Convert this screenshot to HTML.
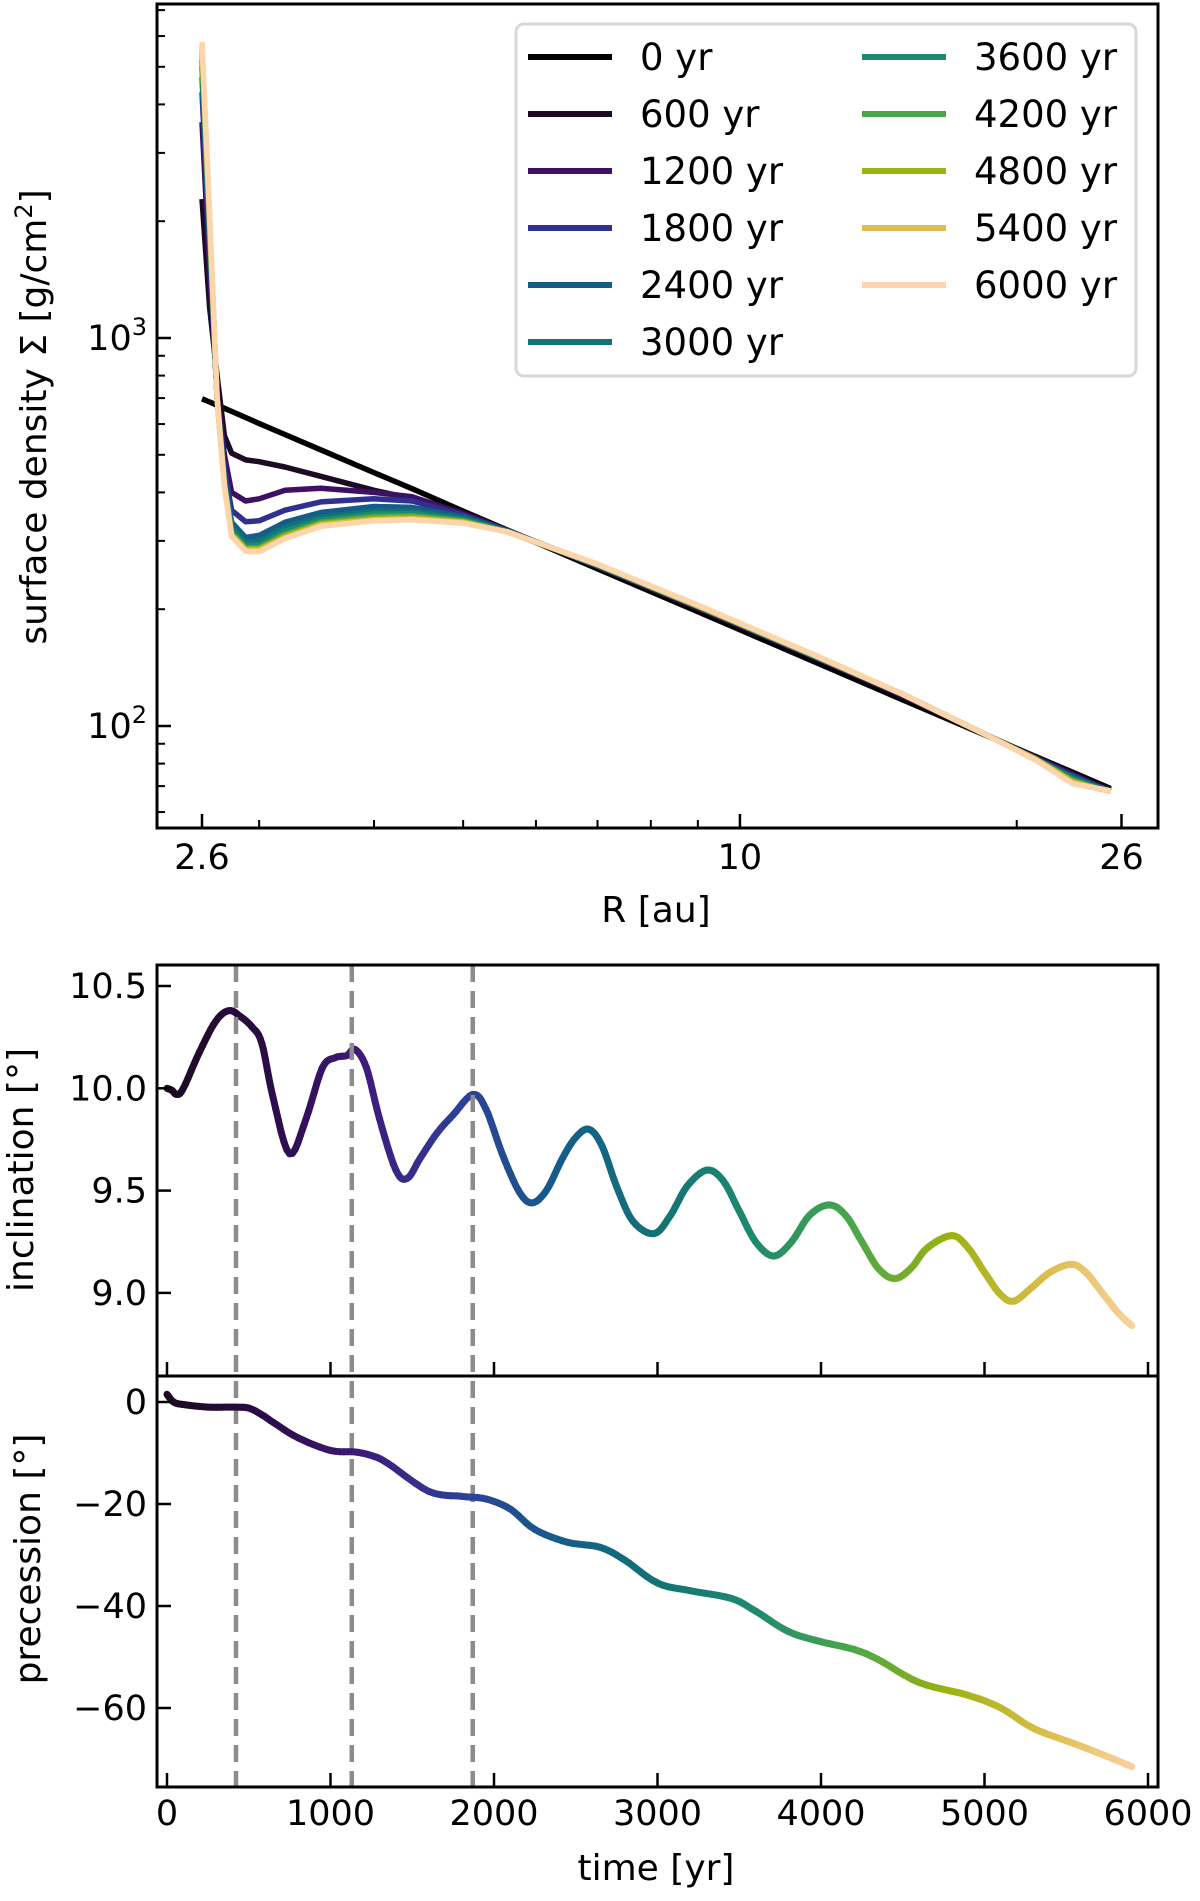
<!DOCTYPE html>
<html><head><meta charset="utf-8">
<style>
html,body{margin:0;padding:0;background:#fff;}
svg text{font-family:"DejaVu Sans","Liberation Sans",sans-serif;fill:#000;}
</style></head>
<body>
<svg id="fig" width="1200" height="1896" viewBox="0 0 1200 1896" xmlns="http://www.w3.org/2000/svg">
<g id="topPanel"></g>
<g id="incPanel"></g>
<g id="prePanel"></g>
</svg>
<script>
// ---- top panel data ----
const radii = [2.6,2.65,2.7,2.75,2.8,2.9,3.0,3.2,3.5,4.0,4.4,5.0,5.6,7,9,12,15,18.5,21,23,24.5,25.3];
const snapTimes = [0,600,1200,1800,2400,3000,3600,4200,4800,5400,6000];
const sigma0    = [697,684,671,659,647,624,602,564,515,450,409,358,319,254,197,147,117,94.7,83.3,76,71.3,69];
const sigma600  = [2280,1200,800,560,505,485,480,465,440,405,385,355,319,257,201,151,120,95,83,75.5,70.5,68.5];
const sigma1200 = [3600,1500,720,500,400,380,385,405,410,400,390,352,318,258,202,151,120,95,82.5,75,70,68];
const sigma1800 = [4300,1700,700,460,360,336,338,360,378,385,380,350,318,259,203,152,121,95,82.5,74.5,70,68];
const sigma2400 = [4700,1800,700,440,335,306,310,335,355,368,366,346,317,259,203,152,121,95,82,74,69.5,68];
const sigma3000 = [5000,1850,700,430,325,298,300,325,345,358,358,343,317,260,203,152,121,95,82,73.5,69.5,68];
const sigma3600 = [5200,1900,700,425,318,292,293,318,340,352,353,340,316,260,204,152,121,95,82,73,69,68];
const sigma4200 = [5400,1950,700,420,314,288,288,312,335,347,348,338,316,260,204,152,121,95,82,72.5,69,68];
const sigma4800 = [5550,2000,700,418,312,286,286,309,332,343,345,336,316,261,204,153,121,95,82,72,69,68];
const sigma5400 = [5650,2050,700,416,310,284,284,306,330,340,342,335,316,261,204,153,121,95,82,71.5,69,68];
const sigma6000 = [5800,2100,700,415,308,282,281,304,327,338,340,333,316,261,205,153,121,95,81.5,71,69,68];
const sigmaSeries = [sigma0,sigma600,sigma1200,sigma1800,sigma2400,sigma3000,sigma3600,sigma4200,sigma4800,sigma5400,sigma6000];
const seriesColors = ['#000000','#1c0b22','#3e1065','#30308f','#155c8a','#137276','#1d8a6e','#4aa64a','#9bb20f','#ddbd4c','#fdd5ac'];
const rTickVals = [2.6,10,26];
const rTickLabels = ['2.6','10','26'];
// ---- bottom panels data ----
const incTime = [0,30,60,100,200,300,380,450,520,580,650,750,850,950,1030,1100,1150,1220,1300,1400,1470,1550,1650,1750,1870,1950,2050,2150,2230,2320,2420,2500,2580,2660,2750,2850,2980,3080,3180,3300,3400,3500,3600,3710,3820,3930,4050,4150,4250,4350,4450,4550,4650,4800,4900,5000,5100,5180,5280,5400,5530,5620,5720,5820,5900];
const incValue = [10.0,9.99,9.97,10.0,10.18,10.33,10.38,10.35,10.3,10.22,9.95,9.68,9.85,10.1,10.15,10.16,10.19,10.1,9.85,9.6,9.56,9.66,9.78,9.87,9.97,9.9,9.68,9.5,9.44,9.5,9.66,9.76,9.80,9.72,9.52,9.35,9.29,9.38,9.52,9.60,9.55,9.4,9.25,9.18,9.25,9.38,9.43,9.38,9.25,9.12,9.07,9.12,9.22,9.28,9.22,9.1,8.99,8.96,9.02,9.1,9.14,9.1,9.0,8.9,8.84];
const preTime = [0,40,100,250,400,500,580,650,800,1000,1150,1250,1350,1600,1800,1950,2100,2250,2450,2650,2800,3000,3200,3450,3600,3800,4000,4200,4350,4600,4900,5100,5300,5550,5750,5900];
const preValue = [1.5,0,-0.5,-1,-1,-1.2,-2.5,-4,-7,-9.5,-9.8,-10.5,-12,-17.5,-18.5,-19,-21,-25,-27.5,-28.5,-31,-35.5,-37,-38.5,-41,-45,-47,-48.5,-50.5,-55,-57.5,-60,-64,-67,-69.5,-71.5];
const markerTimes = [422,1130,1870];
const tTicks = [0,1000,2000,3000,4000,5000,6000];
const incTicks = [9.0,9.5,10.0,10.5];
const incTickLabels = ['9.0','9.5','10.0','10.5'];
const preTicks = [0,-20,-40,-60];
const preTickLabels = ['0','\u221220','\u221240','\u221260'];

const NS='http://www.w3.org/2000/svg';
function mk(parent,tag,attrs,text){const e=document.createElementNS(NS,tag);for(const k in attrs)e.setAttribute(k,attrs[k]);if(text!==undefined)e.textContent=text;parent.appendChild(e);return e;}

// ---------- TOP PANEL ----------
const topG=document.getElementById('topPanel');
const TL=157,TR=1158,TT=4,TB=828;
const xR=r=>202+Math.log10(r/2.6)*919.5;
const yS=s=>338-(Math.log10(s)-3)*388;
for(const r of [3,4,5,6,7,8,9,20]){const l=mk(topG,'line',{x1:xR(r),x2:xR(r),y1:TB,y2:TB-8,stroke:'#000','stroke-width':2});

}
for(const s of [60,70,80,90,200,300,400,500,600,700,800,900,2000,3000,4000,5000,6000,7000]){const l=mk(topG,'line',{x1:TL,x2:TL+8,y1:yS(s),y2:yS(s),stroke:'#000','stroke-width':2});

}
rTickVals.forEach((r,i)=>{const l=mk(topG,'line',{x1:xR(r),x2:xR(r),y1:TB,y2:TB-14,stroke:'#000','stroke-width':2.5});


const t=mk(topG,'text',{x:xR(r),y:869,'font-size':35,'text-anchor':'middle'},rTickLabels[i]);

});
[[100,'2'],[1000,'3']].forEach(([s,e])=>{const l=mk(topG,'line',{x1:TL,x2:TL+14,y1:yS(s),y2:yS(s),stroke:'#000','stroke-width':2.5});


const t=mk(topG,'text',{x:TL-10,y:yS(s)+12,'font-size':35,'text-anchor':'end'});


mk(t,'tspan',{},'10');mk(t,'tspan',{'font-size':24,dy:-15},e);});
const clip=mk(topG,'clipPath',{id:'clipTop'});mk(clip,'rect',{x:TL,y:TT,width:TR-TL,height:TB-TT});
sigmaSeries.forEach((ser,k)=>{
 const d=ser.map((s,i)=>(i?'L':'M')+xR(radii[i]).toFixed(1)+','+yS(s).toFixed(1)).join(' ');
 const p=mk(topG,'path',{d,fill:'none',stroke:seriesColors[k],'stroke-width':5.5,'stroke-linejoin':'round','clip-path':'url(#clipTop)'});
 
 
});
mk(topG,'rect',{x:TL,y:TT,width:TR-TL,height:TB-TT,fill:'none',stroke:'#000','stroke-width':3});
const xl=mk(topG,'text',{x:656,y:922,'font-size':36,'text-anchor':'middle'},'R [au]');


const yl=mk(topG,'text',{x:0,y:0,'font-size':36,'text-anchor':'middle',transform:'translate(46,417) rotate(-90)'});


mk(yl,'tspan',{},'surface density \u03A3 [g/cm');mk(yl,'tspan',{'font-size':24,dy:-14},'2');mk(yl,'tspan',{dy:14},']');
const lg=mk(topG,'g',{});


mk(lg,'rect',{x:516,y:24,width:620,height:352,rx:8,fill:'#fff','fill-opacity':0.85,stroke:'#d8d8d8','stroke-width':3});
snapTimes.forEach((tm,k)=>{
 const col=k<6?0:1,row=k<6?k:k-6;
 const y=57+row*57;const hx=col?862:528,tx=col?974:640;
 const g=mk(lg,'g',{});
 
 
 mk(g,'line',{x1:hx,x2:hx+84,y1:y,y2:y,stroke:seriesColors[k],'stroke-width':6});
 mk(g,'text',{x:tx,y:y+13,'font-size':37},tm+' yr');
});

// ---------- BOTTOM PANELS ----------
const BL=157,BR=1158;
const xT=t=>167+t*0.1635;
const IT=965,IB=1376,PB=1787;
const yI=v=>986+(10.5-v)*204.6;
const yP=v=>1402-v*5.1;
const stops=[[0,'#1c0b22'],[600,'#2a0c45'],[1200,'#3e1a7a'],[1800,'#2f3f95'],[2400,'#155c8a'],[3000,'#137276'],[3600,'#1d8a6e'],[4200,'#4aa64a'],[4800,'#9bb20f'],[5400,'#ddbd4c'],[6000,'#fdd5ac']];
function hex(c){return [1,3,5].map(i=>parseInt(c.substr(i,2),16));}
function cmap(t){for(let i=1;i<stops.length;i++){if(t<=stops[i][0]){const a=stops[i-1],b=stops[i];const f=(t-a[0])/(b[0]-a[0]||1);const A=hex(a[1]),B=hex(b[1]);return 'rgb('+A.map((v,j)=>Math.round(v+(B[j]-v)*f)).join(',')+')';}}return stops[stops.length-1][1];}
function spline(xs,ys){const out=[];const n=xs.length;for(let i=0;i<n-1;i++){const x0=xs[Math.max(i-1,0)],y0=ys[Math.max(i-1,0)],x1=xs[i],y1=ys[i],x2=xs[i+1],y2=ys[i+1],x3=xs[Math.min(i+2,n-1)],y3=ys[Math.min(i+2,n-1)];
 for(let s=0;s<6;s++){const u=s/6,u2=u*u,u3=u2*u;
  const f=(p0,p1,p2,p3)=>0.5*(2*p1+(-p0+p2)*u+(2*p0-5*p1+4*p2-p3)*u2+(-p0+3*p1-3*p2+p3)*u3);
  out.push([f(x0,x1,x2,x3),f(y0,y1,y2,y3)]);}}
 out.push([xs[n-1],ys[n-1]]);return out;}
function drawSeries(g,ts,vs,yf,name){
 const pts=spline(ts,vs);const sg=mk(g,'g',{});
 
 
 for(let i=0;i<pts.length-1;i++){mk(sg,'line',{x1:xT(pts[i][0]).toFixed(1),y1:yf(pts[i][1]).toFixed(1),x2:xT(pts[i+1][0]).toFixed(1),y2:yf(pts[i+1][1]).toFixed(1),stroke:cmap((pts[i][0]+pts[i+1][0])/2),'stroke-width':7,'stroke-linecap':'round'});}
}
const incG=document.getElementById('incPanel'),preG=document.getElementById('prePanel');
drawSeries(incG,incTime,incValue,yI,'inclination-line');
drawSeries(preG,preTime,preValue,yP,'precession-line');
markerTimes.forEach(t=>{const l=mk(incG,'line',{x1:xT(t),x2:xT(t),y1:IT,y2:PB,stroke:'#8c8c8c','stroke-width':4.5,'stroke-dasharray':'17 9'});

});
tTicks.forEach(t=>{
 for(const yb of [IB,PB]){const l=mk(incG,'line',{x1:xT(t),x2:xT(t),y1:yb,y2:yb-14,stroke:'#000','stroke-width':2.5});
 
 }
 const tx=mk(preG,'text',{x:xT(t),y:1825,'font-size':35,'text-anchor':'middle'},String(t));
 
 
});
incTicks.forEach((v,i)=>{const l=mk(incG,'line',{x1:BL,x2:BL+14,y1:yI(v),y2:yI(v),stroke:'#000','stroke-width':2.5});


const t=mk(incG,'text',{x:BL-10,y:yI(v)+12,'font-size':35,'text-anchor':'end'},incTickLabels[i]);

});
preTicks.forEach((v,i)=>{const l=mk(preG,'line',{x1:BL,x2:BL+14,y1:yP(v),y2:yP(v),stroke:'#000','stroke-width':2.5});


const t=mk(preG,'text',{x:BL-10,y:yP(v)+12,'font-size':35,'text-anchor':'end'},preTickLabels[i]);

});
const f1=mk(incG,'rect',{x:BL,y:IT,width:BR-BL,height:IB-IT,fill:'none',stroke:'#000','stroke-width':3});


const f2=mk(preG,'rect',{x:BL,y:IB,width:BR-BL,height:PB-IB,fill:'none',stroke:'#000','stroke-width':3});


const il=mk(incG,'text',{x:0,y:0,'font-size':36,'text-anchor':'middle',transform:'translate(33,1170) rotate(-90)'},'inclination [\u00B0]');


const pl=mk(preG,'text',{x:0,y:0,'font-size':36,'text-anchor':'middle',transform:'translate(40,1559) rotate(-90)'},'precession [\u00B0]');


const tl=mk(preG,'text',{x:656,y:1880,'font-size':36,'text-anchor':'middle'},'time [yr]');


</script>
</body></html>
